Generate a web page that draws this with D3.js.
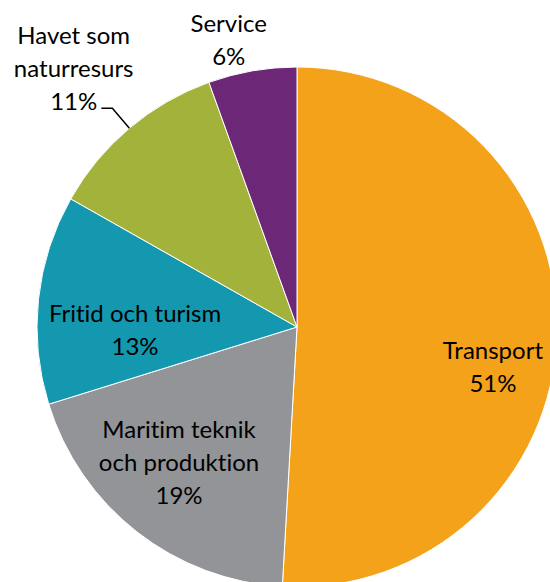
<!DOCTYPE html>
<html>
<head>
<meta charset="utf-8">
<script src="https://cdn.jsdelivr.net/npm/d3@7"></script>
<style>
  html, body { margin: 0; padding: 0; background: #fff; }
  svg { display: block; }
  text { font-family: Lato, "Noto Sans", sans-serif; font-size: 24px; fill: #000; font-variant-ligatures: none; font-feature-settings: "liga" 0; }
</style>
</head>
<body>
<script>
// Sector shares (percent of total)
const categories = ['Transport', 'Maritim teknik och produktion', 'Fritid och turism', 'Havet som naturresurs', 'Service'];
const shares = [50.9, 19.3, 13.0, 11.3, 5.5];
const shareLabels = ['51%', '19%', '13%', '11%', '6%'];
const labelLines = [
  ['Transport'],
  ['Maritim teknik', 'och produktion'],
  ['Fritid och turism'],
  ['Havet som', 'naturresurs'],
  ['Service']
];
const colors = ['#F4A21A', '#929497', '#1398AF', '#A2B23B', '#6C2777'];

// Layout
const width = 550, height = 582;
const cx = 297, cy = 327, radius = 260;
const lineGap = 33;
// label nudges from the slice centroid (Excel moved these by hand)
const nudges = [[14, 35], [-6, -8], [19, 22], [-106, -119], [-37, -108]];

const data = categories.map((c, i) => ({ name: c, value: shares[i], pct: shareLabels[i], lines: labelLines[i], i }));

const svg = d3.select('body').append('svg')
  .attr('width', width)
  .attr('height', height);

const g = svg.append('g').attr('transform', `translate(${cx},${cy})`);

const pie = d3.pie().sort(null).value(d => d.value);
const arc = d3.arc().innerRadius(0).outerRadius(radius);
const labelArc = d3.arc().innerRadius(radius * 0.7).outerRadius(radius * 0.7);

const arcs = pie(data);

g.selectAll('path.slice')
  .data(arcs)
  .enter().append('path')
  .attr('class', 'slice')
  .attr('d', arc)
  .attr('fill', d => colors[d.data.i])
  .attr('stroke', '#fff')
  .attr('stroke-width', 1);

// label positions
arcs.forEach(d => {
  const c = labelArc.centroid(d);
  const n = nudges[d.data.i];
  d.lx = c[0] + n[0];
  d.ly = c[1] + n[1];
});

// leader line for the outside label (Havet som naturresurs)
const outside = arcs[3];
const edge = d3.arc().innerRadius(radius).outerRadius(radius).centroid(outside);
const elbow = [edge[0] - 17, edge[1] - 20];
const tail = [elbow[0] - 11, elbow[1]];
g.append('path')
  .attr('d', d3.line()([edge, elbow, tail]))
  .attr('fill', 'none')
  .attr('stroke', '#000')
  .attr('stroke-width', 1.5);

const labels = g.selectAll('text.label')
  .data(arcs)
  .enter().append('text')
  .attr('class', 'label')
  .attr('text-anchor', 'middle');

labels.each(function(d) {
  const lines = d.data.lines.concat([d.data.pct]);
  const top = d.ly - (lines.length - 1) * lineGap / 2;
  const t = d3.select(this);
  lines.forEach((ln, k) => {
    t.append('tspan')
      .attr('x', d.lx)
      .attr('y', top + k * lineGap + 8.5)
      .text(ln);
  });
});
</script>
</body>
</html>
